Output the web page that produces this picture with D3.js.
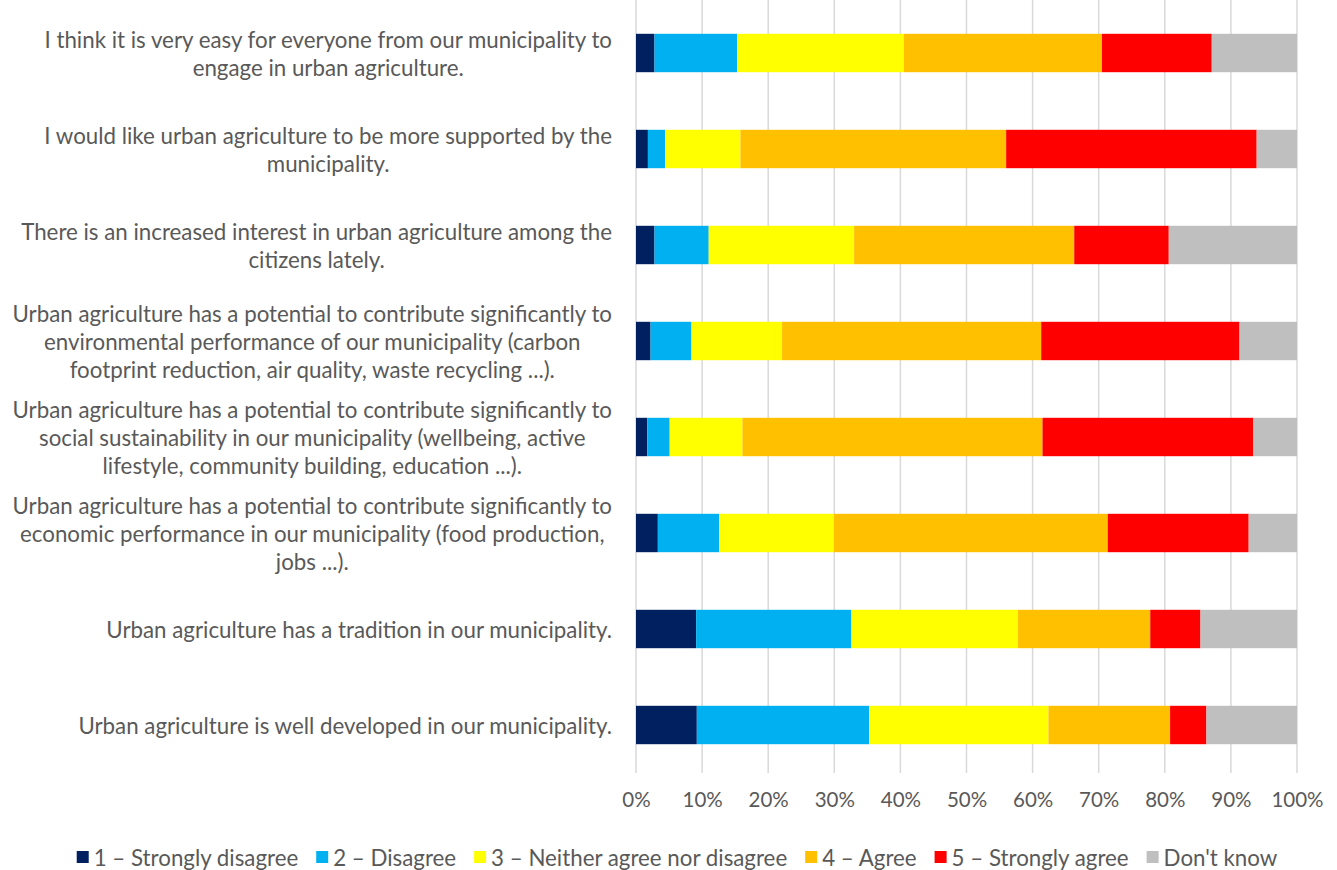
<!DOCTYPE html>
<html>
<head>
<meta charset="utf-8">
<script src="https://cdn.jsdelivr.net/npm/d3@7"></script>
<style>
  html, body { margin: 0; padding: 0; background: #fff; }
  svg { display: block; }
  text { font-family: Lato, "Open Sans", sans-serif; fill: #595959; }
</style>
</head>
<body>
<svg id="chart" width="1337" height="870"></svg>
<script>
// Survey statements (top to bottom), each label split into its wrapped lines
const statements = [
  ["I think it is very easy for everyone from our municipality to", "engage in urban agriculture."],
  ["I would like urban agriculture to be more supported by the", "municipality."],
  ["There is an increased interest in urban agriculture among the", "citizens lately."],
  ["Urban agriculture has a potential to contribute significantly to", "environmental performance of our municipality (carbon", "footprint reduction, air quality, waste recycling ...)."],
  ["Urban agriculture has a potential to contribute significantly to", "social sustainability in our municipality (wellbeing, active", "lifestyle, community building, education ...)."],
  ["Urban agriculture has a potential to contribute significantly to", "economic performance in our municipality (food production,", "jobs ...)."],
  ["Urban agriculture has a tradition in our municipality."],
  ["Urban agriculture is well developed in our municipality."]
];

const responses = ["1 – Strongly disagree", "2 – Disagree", "3 – Neither agree nor disagree", "4 – Agree", "5 – Strongly agree", "Don't know"];
const colors = ["#002060", "#00B0F0", "#FFFF00", "#FFC000", "#FF0000", "#BFBFBF"];

// Share of answers (%) per response, one array per response, in statement order
const stronglyDisagree = [2.8, 1.8, 2.8, 2.2, 1.7, 3.3, 9.1, 9.2];
const disagree         = [12.5, 2.6, 8.2, 6.2, 3.4, 9.3, 23.5, 26.1];
const neither          = [25.2, 11.4, 22.0, 13.7, 11.0, 17.3, 25.2, 27.1];
const agree            = [30.0, 40.2, 33.3, 39.2, 45.4, 41.4, 20.0, 18.4];
const stronglyAgree    = [16.6, 37.9, 14.3, 30.0, 31.9, 21.3, 7.6, 5.5];
const dontKnow         = [12.9, 6.1, 19.4, 8.7, 6.6, 7.3, 14.6, 13.7];

const tickValues = [0, 0.1, 0.2, 0.3, 0.4, 0.5, 0.6, 0.7, 0.8, 0.9, 1.0];

const seriesValues = [stronglyDisagree, disagree, neither, agree, stronglyAgree, dontKnow];

// Normalise each statement's answers to a 100% stacked row
const rows = statements.map((s, i) => {
  const row = { id: i };
  const total = d3.sum(seriesValues, v => v[i]);
  responses.forEach((r, k) => { row[r] = seriesValues[k][i] / total; });
  return row;
});

const svg = d3.select("#chart");
const plot = { left: 636, right: 1297, top: 5, bottom: 773 };
const fontSize = 22.3;

const x = d3.scaleLinear().domain([0, 1]).range([plot.left, plot.right]);
const y = d3.scaleBand().domain(d3.range(statements.length))
  .range([plot.top, plot.bottom]).paddingInner(0.6).paddingOuter(0.3);

// Vertical gridlines
svg.append("g")
  .selectAll("line")
  .data(tickValues)
  .join("line")
  .attr("x1", d => x(d)).attr("x2", d => x(d))
  .attr("y1", 0).attr("y2", plot.bottom)
  .attr("stroke", "#d9d9d9").attr("stroke-width", 1.5);

// Stacked bars
const stacked = d3.stack().keys(responses)(rows);
svg.append("g")
  .selectAll("g")
  .data(stacked)
  .join("g")
  .attr("fill", (d, k) => colors[k])
  .selectAll("rect")
  .data(d => d)
  .join("rect")
  .attr("x", d => x(d[0]))
  .attr("width", d => x(d[1]) - x(d[0]))
  .attr("y", (d, i) => y(i))
  .attr("height", y.bandwidth());

// X axis tick labels
const xAxis = d3.axisBottom(x).tickValues(tickValues).tickFormat(d3.format(".0%")).tickSize(0).tickPadding(19);
const gx = svg.append("g").attr("transform", `translate(0,${plot.bottom})`).call(xAxis);
gx.select(".domain").remove();
gx.selectAll("text").attr("font-size", 20.5).attr("fill", "#595959").style("font-family", "Lato, sans-serif");

// Category labels: block right-aligned, each line centred within the block
const lineH = 28;
const labelRight = 612;
const labels = svg.append("g");
statements.forEach((lines, i) => {
  const g = labels.append("g");
  const cy = y(i) + y.bandwidth() / 2;
  const texts = lines.map((ln, j) => g.append("text")
    .attr("font-size", fontSize)
    .attr("text-anchor", "middle")
    .attr("dominant-baseline", "central")
    .attr("y", cy + (j - (lines.length - 1) / 2) * lineH)
    .text(ln));
  const maxW = d3.max(texts, t => t.node().getComputedTextLength());
  texts.forEach(t => t.attr("x", labelRight - maxW / 2));
});

// Legend, centred under the chart
const legend = svg.append("g").attr("transform", "translate(0,857)");
const items = responses.map((r, k) => {
  const g = legend.append("g");
  g.append("rect").attr("width", 12).attr("height", 12).attr("y", -6).attr("fill", colors[k]);
  const t = g.append("text").attr("x", 17).attr("font-size", fontSize)
    .attr("dominant-baseline", "central").text(r);
  return { g, w: 17 + t.node().getComputedTextLength() };
});
const gap = 18;
const totalW = d3.sum(items, d => d.w) + gap * (items.length - 1);
let cx = 677 - totalW / 2;
items.forEach(it => { it.g.attr("transform", `translate(${cx},0)`); cx += it.w + gap; });
</script>
</body>
</html>
